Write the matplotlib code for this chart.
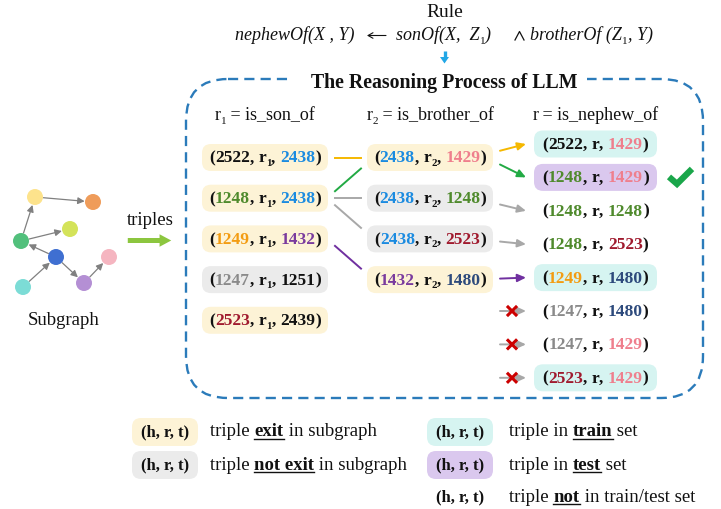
import matplotlib
matplotlib.use('Agg')
import matplotlib.pyplot as plt
from matplotlib.patches import FancyBboxPatch, Circle, FancyArrowPatch, Rectangle, Polygon

plt.rcParams['font.family'] = ['Liberation Serif', 'DejaVu Serif']

# ---------------- data ----------------
col1_triples = [("2522", "2438"), ("1248", "2438"), ("1249", "1432"), ("1247", "1251"), ("2523", "2439")]
col1_fill = ["exist", "exist", "exist", "absent", "exist"]
col2_triples = [("2438", "1429"), ("2438", "1248"), ("2438", "2523"), ("1432", "1480")]
col2_fill = ["exist", "absent", "absent", "exist"]
col3_triples = [("2522", "1429"), ("1248", "1429"), ("1248", "1248"), ("1248", "2523"),
                ("1249", "1480"), ("1247", "1480"), ("1247", "1429"), ("2523", "1429")]
col3_fill = ["train", "test", None, None, "train", None, None, "train"]
col_headers = [("r", "1", " = is_son_of"), ("r", "2", " = is_brother_of"), ("r", "", " = is_nephew_of")]
links_12 = [(0, 0, "#f5b800"), (1, 0, "#22aa44"), (1, 1, "#a8a8a8"), (1, 2, "#a8a8a8"), (2, 3, "#7030a0")]
links_23 = [(0, 0, "#f5b800"), (0, 1, "#22aa44"), (1, 2, "#a8a8a8"), (2, 3, "#a8a8a8"), (3, 4, "#7030a0")]
blocked_rows = [5, 6, 7]
correct_rows = [1]

entity_color = {'2522': '#111111', '2438': '#1b8be0', '1429': '#ef7f8d', '1248': '#4f8a2c',
                '1249': '#f39c12', '1432': '#7a3b9e', '1247': '#8a8a8a', '1251': '#111111',
                '2523': '#a01a2e', '2439': '#111111', '1480': '#2d4a7c'}
fill_color = {'exist': '#fdf3d6', 'absent': '#ebebeb', 'train': '#d6f4f1', 'test': '#dac8ee'}

graph_nodes = {'yellow': (35, 197), 'orange': (93, 202), 'lime': (70, 229), 'green': (21, 241),
               'blue': (56, 257), 'pink': (109, 257), 'purple': (84, 283), 'cyan': (23, 287)}
node_color = {'yellow': '#fde38c', 'orange': '#ef9c5a', 'lime': '#d4e35a', 'green': '#52c07c',
              'blue': '#3f6fd1', 'pink': '#f5b5c0', 'purple': '#b48fd4', 'cyan': '#7cdcd6'}
graph_edges = [('yellow', 'orange'), ('green', 'yellow'), ('green', 'lime'), ('blue', 'green'),
               ('cyan', 'blue'), ('blue', 'purple'), ('purple', 'pink')]

legend_left = [('exist', 'triple ', 'exit', ' in subgraph'), ('absent', 'triple ', 'not exit', ' in subgraph')]
legend_right = [('train', 'triple in ', 'train', ' set'), ('test', 'triple in ', 'test', ' set'),
                (None, 'triple ', 'not', ' in train/test set')]

# ---------------- figure ----------------
W, H = 721, 509
fig = plt.figure(figsize=(W / 100, H / 100), dpi=100)
ax = fig.add_axes([0, 0, 1, 1])
ax.set_xlim(0, W)
ax.set_ylim(H, 0)
ax.axis('off')
fig.canvas.draw()
R = fig.canvas.get_renderer()


def text_w(s, size, weight='normal', style='normal'):
    t = ax.text(0, 0, '|' + s + '|', fontsize=size, fontweight=weight, fontstyle=style)
    w1 = t.get_window_extent(renderer=R).width
    t.set_text('||')
    w0 = t.get_window_extent(renderer=R).width
    t.remove()
    return w1 - w0


def run(s, color='#111111', w='bold', st='normal', size=12.5, dy=0, ul=False):
    return dict(s=s, color=color, w=w, st=st, size=size, dy=dy, ul=ul)


def draw_runs(x, y, runs, ha='left', z=5):
    widths = [text_w(r['s'], r['size'], r['w'], r['st']) for r in runs]
    total = sum(widths)
    x0 = x - total / 2 if ha == 'center' else x
    for r, w in zip(runs, widths):
        ax.text(x0, y + r['dy'], r['s'], fontsize=r['size'], fontweight=r['w'], fontstyle=r['st'],
                color=r['color'], va='baseline', ha='left', zorder=z)
        if r['ul']:
            ax.plot([x0, x0 + w], [y + 2.5, y + 2.5], color=r['color'], lw=1.0, zorder=z)
        x0 += w
    return total


def triple_runs(h, rel, sub, t, size=12.5):
    rs = [run('(', size=size), run(h, entity_color[h], size=size), run(', ', size=size), run(rel, size=size)]
    if sub:
        rs.append(run(sub, size=size * 0.62, dy=3.5))
    rs += [run(', ', size=size), run(t, entity_color[t], size=size), run(')', size=size)]
    return rs


def rbox(cx, cy, w, h, fc, rad=9):
    ax.add_patch(FancyBboxPatch((cx - w / 2, cy - h / 2), w, h,
                                boxstyle='round,pad=0,rounding_size=%g' % rad,
                                fc=fc, ec='none', zorder=2))


# ---------------- rule ----------------
ax.text(445, 17, 'Rule', fontsize=14, ha='center', va='baseline', color='#111111')
fs = 13
draw_runs(235, 40, [run('nephewOf(X , Y)', w='normal', st='italic', size=fs)])
ax.add_patch(FancyArrowPatch((386, 35.5), (367, 35.5), arrowstyle='->,head_length=3.5,head_width=2',
                             mutation_scale=1, color='#111111', lw=0.8, shrinkA=0, shrinkB=0, zorder=5))
draw_runs(396, 40, [run('sonOf(X,  Z', w='normal', st='italic', size=fs), run('1', w='normal', size=8, dy=3.5),
                    run(')', w='normal', st='italic', size=fs)])
ax.plot([515, 519.5, 524], [40, 31.5, 40], color='#111111', lw=0.9, zorder=5)
draw_runs(530, 40, [run('brotherOf (Z', w='normal', st='italic', size=fs), run('1', w='normal', size=8, dy=3.5),
                    run(', Y)', w='normal', st='italic', size=fs)])
# blue down arrow
ax.plot([444.5, 444.5], [51, 57.5], color='#22a7e6', lw=2.4, solid_capstyle='butt', zorder=5)
ax.add_patch(Polygon([(440, 57), (449, 57), (444.5, 63.5)], closed=True, fc='#22a7e6', ec='none', zorder=5))

# ---------------- dashed box ----------------
ax.add_patch(FancyBboxPatch((186, 79), 517, 319, boxstyle='round,pad=0,rounding_size=42',
                            fc='none', ec='#2b7bba', lw=1.7, ls=(0, (4.3, 2.6)), zorder=1))
ax.add_patch(Rectangle((292, 68), 295, 22, fc='white', ec='none', zorder=3))
ax.text(444.5, 88, 'The Reasoning Process of LLM', fontsize=14.3, fontweight='bold', ha='center',
        va='baseline', color='#111111', zorder=4)

# ---------------- columns ----------------
col_x = [265, 430, 595.5]
row12 = [157.5 + 40.7 * i for i in range(5)]
row3 = [144 + 33.4 * i for i in range(8)]
BW, BH = 126, 27

for cx, (r, sub, rest) in zip(col_x, col_headers):
    rs = [run(r, w='normal', size=13)]
    if sub:
        rs.append(run(sub, w='normal', size=8, dy=3.5))
    rs.append(run(rest, w='normal', size=13))
    draw_runs(cx, 120, rs, ha='center')

for i, ((h, t), f) in enumerate(zip(col1_triples, col1_fill)):
    rbox(col_x[0], row12[i], BW, BH, fill_color[f])
    draw_runs(col_x[0], row12[i] + 5, triple_runs(h, 'r', '1', t), ha='center')

for i, ((h, t), f) in enumerate(zip(col2_triples, col2_fill)):
    rbox(col_x[1], row12[i], BW, BH, fill_color[f])
    draw_runs(col_x[1], row12[i] + 5, triple_runs(h, 'r', '2', t), ha='center')

for i, ((h, t), f) in enumerate(zip(col3_triples, col3_fill)):
    if f:
        rbox(col_x[2], row3[i], 123, BH, fill_color[f])
    draw_runs(col_x[2], row3[i] + 5, triple_runs(h, 'r', '', t), ha='center')

# links col1 -> col2
for a, b, c in links_12:
    y1, y2 = row12[a], row12[b]
    if a == b:
        ax.plot([335, 361], [y1, y2], color=c, lw=1.4, zorder=3)
    else:
        s = 1 if y2 > y1 else -1
        ax.plot([335, 361], [y1 + 7 * s, y2 - 11 * s], color=c, lw=1.4, zorder=3)

# arrows col2 -> col3
for a, b, c in links_23:
    y1, y2 = row12[a], row3[b]
    d = max(-7, min(7, (y2 - y1) * 0.5))
    ax.add_patch(FancyArrowPatch((500, y1 + d), (526, y2), arrowstyle='-|>,head_length=5,head_width=2.3',
                                 mutation_scale=1, color=c, lw=1.4, shrinkA=0, shrinkB=0, zorder=3))
for b in blocked_rows:
    y = row3[b]
    ax.add_patch(FancyArrowPatch((500, y), (526, y), arrowstyle='-|>,head_length=5,head_width=2.3',
                                 mutation_scale=1, color='#a8a8a8', lw=1.4, shrinkA=0, shrinkB=0, zorder=3))
    ax.plot([508, 516], [y - 4, y + 4], color='#cc0000', lw=2.2, zorder=4)
    ax.plot([508, 516], [y + 4, y - 4], color='#cc0000', lw=2.2, zorder=4)
for b in correct_rows:
    y = row3[b]
    ax.plot([669, 677, 692], [y - 0.5, y + 6.5, y - 8.5], color='#1aa64a', lw=4.5, solid_capstyle='butt',
            solid_joinstyle='miter', zorder=4)

# ---------------- subgraph ----------------
for a, b in graph_edges:
    ax.add_patch(FancyArrowPatch(graph_nodes[a], graph_nodes[b], arrowstyle='-|>,head_length=4,head_width=2',
                                 mutation_scale=1, color='#808080', lw=0.9, shrinkA=6, shrinkB=6, zorder=2))
for n, (x, y) in graph_nodes.items():
    ax.add_patch(Circle((x, y), 8, fc=node_color[n], ec='none', zorder=3))
ax.text(64, 325, 'Subgraph', fontsize=13.5, ha='center', va='baseline', color='#111111')
ax.text(150, 225, 'triples', fontsize=13.5, ha='center', va='baseline', color='#111111')
ax.add_patch(FancyArrowPatch((125, 240.5), (174, 240.5),
                             arrowstyle='simple,head_width=0.75,head_length=0.7,tail_width=0.3',
                             mutation_scale=12, color='#8cc63f', lw=0, zorder=5))

# ---------------- legend ----------------
leg_rows = [432, 465, 497]
LS = 13.5
for i, (f, pre, bold, post) in enumerate(legend_left):
    rbox(165, leg_rows[i], 66, 28, fill_color[f])
    draw_runs(165, leg_rows[i] + 4.5, [run('(h, r, t)', size=12)], ha='center')
    draw_runs(210, leg_rows[i] + 4.5, [run(pre, w='normal', size=LS), run(bold, size=LS, ul=True),
                                       run(post, w='normal', size=LS)])
for i, (f, pre, bold, post) in enumerate(legend_right):
    if f:
        rbox(460, leg_rows[i], 66, 28, fill_color[f])
    draw_runs(460, leg_rows[i] + 4.5, [run('(h, r, t)', size=12)], ha='center')
    draw_runs(509, leg_rows[i] + 4.5, [run(pre, w='normal', size=LS), run(bold, size=LS, ul=True),
                                       run(post, w='normal', size=LS)])

fig.savefig('out.png', dpi=100)
